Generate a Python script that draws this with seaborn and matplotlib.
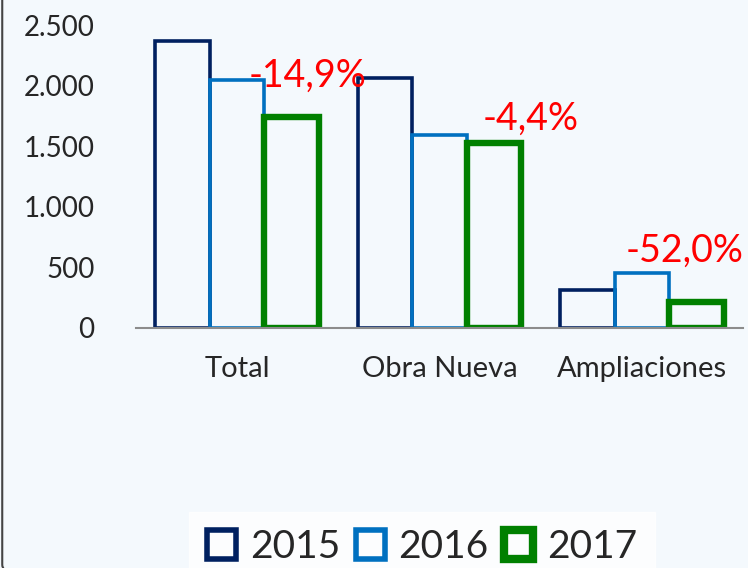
import matplotlib
matplotlib.use("Agg")
import matplotlib.pyplot as plt
import seaborn as sns
import pandas as pd
from matplotlib.patches import FancyBboxPatch

# Datos
categorias = ["Total", "Obra Nueva", "Ampliaciones"]
anios = ["2015", "2016", "2017"]
v2015 = [2370, 2060, 310]
v2016 = [2045, 1595, 450]
v2017 = [1740, 1525, 216]
variaciones = ["-14,9%", "-4,4%", "-52,0%"]

# posicion de las etiquetas rojas (desplazamiento x, altura y)
pos_x = [0.35, 0.45, 0.21]
pos_y = [1990, 1635, 545]

colores = ["#002060", "#0070c0", "#008000"]

filas = []
for anio, valores in zip(anios, [v2015, v2016, v2017]):
    for cat, v in zip(categorias, valores):
        filas.append({"Categoria": cat, "Anio": anio, "Valor": v})
df = pd.DataFrame(filas)

sns.set_style("white")
plt.rcParams['font.family'] = ['Lato', 'DejaVu Sans']

fig = plt.figure(figsize=(7.48, 5.68), dpi=100)
fig.patch.set_facecolor("#f4f9fd")
ax = fig.add_axes([136 / 748, 1 - 328 / 568, (743 - 136) / 748, (328 - 25) / 568])
ax.set_facecolor("none")

# borde redondeado del recuadro (solo se ve el lado izquierdo)
marco = FancyBboxPatch((0.003, -0.006), 1.5, 1.5, boxstyle="round,pad=0,rounding_size=0.012",
                       transform=fig.transFigure, facecolor="none", edgecolor="#444444",
                       linewidth=1.5, zorder=0)
fig.patches.append(marco)

sns.barplot(data=df, x="Categoria", y="Valor", hue="Anio", palette=colores,
            fill=False, width=0.81, gap=0, ax=ax, errorbar=None)

anchos = [2.6, 2.6, 4.6]
for cont, lw, col in zip(ax.containers, anchos, colores):
    for barra in cont:
        barra.set_linewidth(lw)
        barra.set_edgecolor(col)
        barra.set_joinstyle("miter")

ax.set_ylim(0, 2500)
ax.set_xlim(-0.5, 2.5)
ax.set_yticks([0, 500, 1000, 1500, 2000, 2500])
ax.set_yticklabels(["0", "500", "1.000", "1.500", "2.000", "2.500"], fontsize=20)
ax.tick_params(axis="y", length=0, pad=30)
ax.tick_params(axis="x", length=0, pad=20, labelsize=21)
ax.set_xlabel("")
ax.set_ylabel("")
sns.despine(ax=ax, left=True)
ax.spines["bottom"].set_color("#8c8c8c")
ax.spines["bottom"].set_linewidth(1.5)

# variacion 2017/2016 en rojo
for i, txt in enumerate(variaciones):
    ax.text(i + pos_x[i], pos_y[i], txt, color="red", fontsize=27,
            ha="center", va="baseline")

h, l = ax.get_legend_handles_labels()
ax.legend_.remove()
leg = fig.legend(h, l, loc="lower center", bbox_to_anchor=(422 / 748, -0.06), ncol=3,
                 fontsize=28, frameon=True, fancybox=False, handlelength=0.75,
                 handleheight=0.75, handletextpad=0.35, columnspacing=0.4, borderpad=0.45)
leg.get_frame().set_facecolor("white")
leg.get_frame().set_edgecolor("white")
for hd, lw in zip(leg.legend_handles, anchos):
    hd.set_linewidth(lw + 1.4)

fig.savefig("out.png", dpi=100)
